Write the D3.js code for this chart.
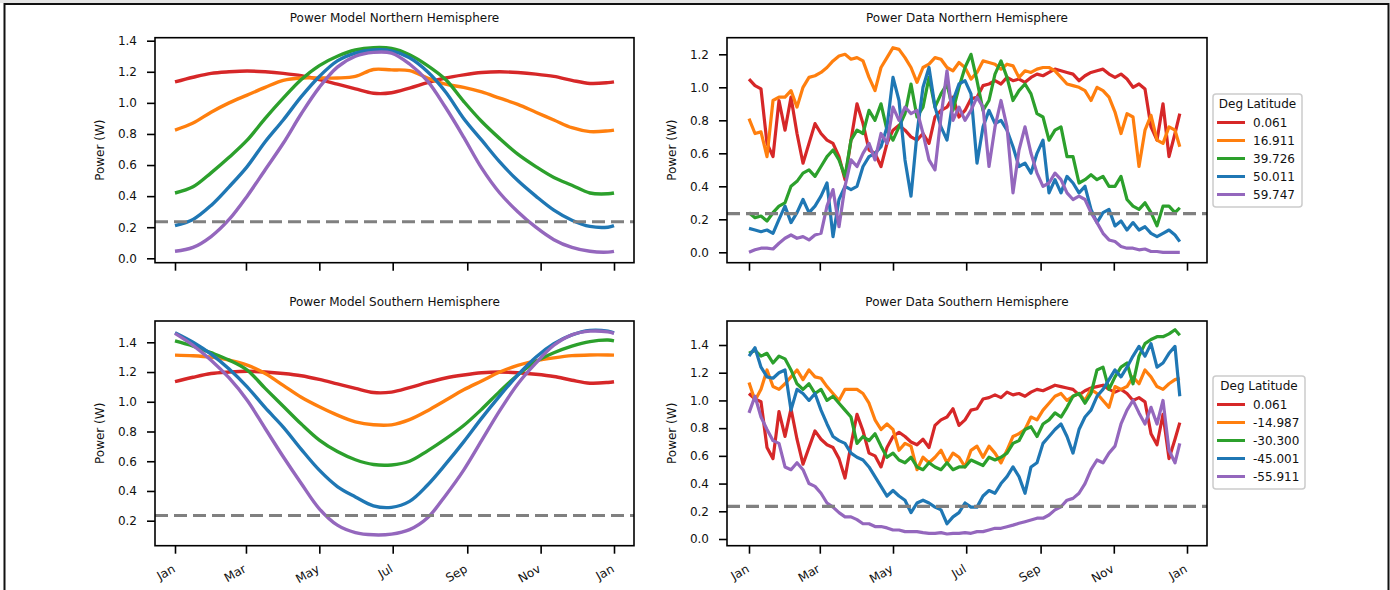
<!DOCTYPE html>
<html>
<head>
<meta charset="utf-8">
<script src="https://cdn.jsdelivr.net/npm/d3@7"></script>
<style>
  body { margin: 0; background: #fff; }
  svg { display: block; font-family: "DejaVu Sans", sans-serif; }
</style>
</head>
<body>
<svg width="1390" height="590"></svg>
<script>
// month ticks (day of year)
const monthDays = [0, 59, 120, 181, 243, 304, 365];
const monthLabels = ["Jan", "Mar", "May", "Jul", "Sep", "Nov", "Jan"];

const northLats = ["0.061", "16.911", "39.726", "50.011", "59.747"];
const southLats = ["0.061", "-14.987", "-30.300", "-45.001", "-55.911"];
const colors = ["#d62728", "#ff7f0e", "#2ca02c", "#1f77b4", "#9467bd"];

const threshold = 0.235;

const ticksModelNorth = [0, 0.2, 0.4, 0.6, 0.8, 1.0, 1.2, 1.4];
const ticksDataNorth = [0, 0.2, 0.4, 0.6, 0.8, 1.0, 1.2];
const ticksModelSouth = [0.2, 0.4, 0.6, 0.8, 1.0, 1.2, 1.4];
const ticksDataSouth = [0, 0.2, 0.4, 0.6, 0.8, 1.0, 1.2, 1.4];

// model curves
const modelDays = [0, 15, 30, 45, 60, 75, 90, 105, 120, 135, 150, 165, 180, 195, 210, 225, 240, 255, 270, 285, 300, 315, 330, 345, 360, 365];
const model0061 = [1.135, 1.165, 1.19, 1.2, 1.205, 1.2, 1.19, 1.175, 1.15, 1.12, 1.09, 1.062, 1.065, 1.095, 1.13, 1.16, 1.18, 1.195, 1.2, 1.195, 1.185, 1.17, 1.145, 1.125, 1.13, 1.135];
const model16911 = [0.825, 0.87, 0.94, 1.0, 1.05, 1.1, 1.145, 1.16, 1.16, 1.16, 1.17, 1.215, 1.212, 1.207, 1.16, 1.12, 1.1, 1.07, 1.03, 0.99, 0.94, 0.89, 0.84, 0.815, 0.82, 0.825];
const model39726 = [0.42, 0.46, 0.55, 0.65, 0.76, 0.9, 1.03, 1.15, 1.24, 1.3, 1.34, 1.355, 1.35, 1.31, 1.24, 1.15, 1.01, 0.88, 0.77, 0.67, 0.59, 0.52, 0.47, 0.42, 0.415, 0.42];
const model50011 = [0.21, 0.25, 0.34, 0.46, 0.59, 0.75, 0.89, 1.04, 1.17, 1.27, 1.32, 1.34, 1.335, 1.29, 1.2, 1.07, 0.9, 0.76, 0.62, 0.5, 0.4, 0.31, 0.245, 0.205, 0.2, 0.21];
const model59747 = [0.045, 0.07, 0.14, 0.25, 0.4, 0.57, 0.74, 0.93, 1.1, 1.23, 1.3, 1.325, 1.32, 1.25, 1.14, 0.97, 0.78, 0.58, 0.42, 0.3, 0.2, 0.12, 0.07, 0.045, 0.04, 0.045];
const modelM14987 = [1.314, 1.31, 1.3, 1.28, 1.247, 1.19, 1.11, 1.03, 0.966, 0.91, 0.865, 0.845, 0.845, 0.88, 0.94, 1.01, 1.08, 1.14, 1.2, 1.245, 1.275, 1.295, 1.31, 1.315, 1.315, 1.314];
const modelM30300 = [1.41, 1.375, 1.33, 1.28, 1.213, 1.09, 0.97, 0.85, 0.742, 0.665, 0.61, 0.578, 0.575, 0.6, 0.67, 0.75, 0.84, 0.95, 1.07, 1.18, 1.27, 1.33, 1.375, 1.405, 1.415, 1.41];
const modelM45001 = [1.464, 1.4, 1.32, 1.22, 1.1, 0.96, 0.83, 0.68, 0.54, 0.43, 0.36, 0.3, 0.29, 0.33, 0.44, 0.58, 0.73, 0.89, 1.04, 1.18, 1.3, 1.39, 1.45, 1.48, 1.475, 1.464];
const modelM55911 = [1.46, 1.38, 1.28, 1.16, 1.01, 0.82, 0.63, 0.45, 0.28, 0.17, 0.12, 0.105, 0.11, 0.14, 0.22, 0.37, 0.54, 0.74, 0.94, 1.12, 1.26, 1.38, 1.45, 1.475, 1.47, 1.46];

// measured data
const dataDays = [0, 5, 10, 15, 20, 25, 30, 35, 40, 45, 50, 55, 60, 65, 70, 75, 80, 85, 90, 95, 100, 105, 110, 115, 120, 125, 130, 135, 140, 145, 150, 155, 160, 165, 170, 175, 180, 185, 190, 195, 200, 205, 210, 215, 220, 225, 230, 235, 240, 245, 250, 255, 260, 265, 270, 275, 280, 285, 290, 295, 300, 305, 310, 315, 320, 325, 330, 335, 340, 345, 350, 355, 359];
const data0061 = [1.05, 1.01, 0.99, 0.66, 0.58, 0.92, 0.74, 0.94, 0.72, 0.54, 0.66, 0.78, 0.72, 0.68, 0.66, 0.58, 0.44, 0.68, 0.9, 0.78, 0.62, 0.6, 0.52, 0.66, 0.74, 0.77, 0.74, 0.7, 0.68, 0.72, 0.66, 0.82, 0.86, 0.88, 0.94, 0.82, 0.86, 0.93, 0.94, 1.01, 1.02, 1.04, 1.02, 1.06, 1.04, 1.05, 1.03, 1.06, 1.08, 1.07, 1.09, 1.11, 1.1, 1.09, 1.08, 1.04, 1.07, 1.09, 1.1, 1.11, 1.08, 1.06, 1.08, 1.05, 1.0, 1.02, 0.99, 0.76, 0.68, 0.9, 0.58, 0.72, 0.84];
const data16911 = [0.81, 0.72, 0.73, 0.58, 0.92, 0.94, 0.94, 0.98, 0.88, 1.0, 1.06, 1.07, 1.09, 1.12, 1.16, 1.19, 1.2, 1.17, 1.18, 1.16, 1.06, 0.98, 1.12, 1.18, 1.24, 1.23, 1.18, 1.12, 1.03, 1.12, 1.14, 1.18, 1.17, 1.12, 1.1, 1.15, 1.12, 1.05, 1.09, 1.16, 1.15, 1.14, 1.11, 1.14, 1.13, 1.06, 1.1, 1.09, 1.11, 1.12, 1.12, 1.1, 1.06, 1.02, 1.01, 1.0, 0.98, 0.92, 1.0, 0.98, 0.94, 0.85, 0.72, 0.84, 0.82, 0.52, 0.74, 0.83, 0.68, 0.66, 0.76, 0.74, 0.64];
const data39726 = [0.24, 0.21, 0.22, 0.19, 0.24, 0.28, 0.3, 0.4, 0.43, 0.48, 0.5, 0.46, 0.52, 0.58, 0.62, 0.56, 0.46, 0.68, 0.74, 0.72, 0.86, 0.8, 0.9, 0.74, 0.68, 0.76, 0.84, 1.02, 0.82, 0.88, 1.06, 0.88, 0.96, 1.02, 0.86, 1.0, 1.12, 1.2, 1.04, 0.86, 0.92, 1.08, 1.16, 1.06, 0.92, 0.98, 1.02, 0.96, 0.84, 0.82, 0.68, 0.74, 0.76, 0.58, 0.58, 0.42, 0.44, 0.47, 0.44, 0.46, 0.4, 0.4, 0.46, 0.32, 0.28, 0.26, 0.3, 0.24, 0.16, 0.28, 0.28, 0.24, 0.27];
const data50011 = [0.145, 0.135, 0.125, 0.135, 0.115, 0.2, 0.28, 0.18, 0.24, 0.32, 0.24, 0.28, 0.34, 0.42, 0.095, 0.32, 0.4, 0.38, 0.4, 0.52, 0.58, 0.6, 0.64, 0.76, 1.06, 0.92, 0.56, 0.34, 0.72, 1.0, 1.12, 0.88, 0.76, 0.68, 0.92, 1.02, 1.04, 0.96, 0.54, 0.76, 0.86, 0.78, 0.8, 0.74, 0.64, 0.52, 0.54, 0.48, 0.6, 0.68, 0.36, 0.44, 0.36, 0.46, 0.42, 0.36, 0.4, 0.26, 0.18, 0.24, 0.26, 0.16, 0.19, 0.135, 0.18, 0.135, 0.155, 0.115, 0.095, 0.115, 0.135, 0.105, 0.065];
const data59747 = [0.0, 0.015, 0.025, 0.025, 0.02, 0.055, 0.085, 0.105, 0.085, 0.095, 0.075, 0.105, 0.115, 0.28, 0.38, 0.155, 0.4, 0.56, 0.52, 0.6, 0.66, 0.56, 0.72, 0.66, 0.88, 0.8, 0.88, 0.84, 0.86, 0.72, 0.56, 0.5, 0.82, 1.1, 0.8, 0.88, 0.8, 0.86, 0.94, 0.88, 0.52, 0.76, 0.92, 0.76, 0.36, 0.62, 0.76, 0.6, 0.48, 0.4, 0.42, 0.48, 0.44, 0.36, 0.32, 0.34, 0.32, 0.24, 0.18, 0.115, 0.075, 0.065, 0.035, 0.025, 0.025, 0.015, 0.02, 0.005, 0.005, 0.0, 0.0, 0.0, 0.0];
const dataM14987 = [1.13, 1.0, 1.08, 1.22, 1.1, 1.08, 1.12, 1.17, 1.22, 1.15, 1.22, 1.17, 1.16, 1.1, 1.05, 1.0, 1.08, 1.08, 1.08, 1.05, 0.98, 0.86, 0.79, 0.83, 0.79, 0.64, 0.69, 0.67, 0.5, 0.59, 0.55, 0.59, 0.64, 0.55, 0.62, 0.59, 0.52, 0.64, 0.67, 0.59, 0.67, 0.62, 0.55, 0.64, 0.74, 0.76, 0.79, 0.88, 0.86, 0.93, 0.98, 1.03, 1.05, 1.0, 1.03, 1.05, 1.0, 1.08, 1.05, 1.0, 0.95, 1.1, 1.08, 1.1, 1.17, 1.12, 1.22, 1.17, 1.1, 1.08, 1.12, 1.15, 1.16];
const dataM30300 = [1.34, 1.36, 1.32, 1.34, 1.27, 1.32, 1.3, 1.22, 1.12, 1.08, 1.12, 1.05, 1.08, 1.0, 1.03, 0.98, 0.93, 0.88, 0.69, 0.74, 0.71, 0.76, 0.67, 0.59, 0.62, 0.57, 0.55, 0.59, 0.52, 0.5, 0.55, 0.52, 0.5, 0.55, 0.5, 0.52, 0.52, 0.57, 0.55, 0.53, 0.59, 0.57, 0.59, 0.62, 0.69, 0.71, 0.79, 0.81, 0.74, 0.83, 0.86, 0.91, 0.88, 0.95, 1.03, 1.05, 0.98, 1.05, 1.22, 1.24, 1.08, 1.17, 1.24, 1.27, 1.12, 1.32, 1.41, 1.44, 1.46, 1.46, 1.48, 1.51, 1.47];
const dataM45001 = [1.32, 1.38, 1.24, 1.17, 1.16, 1.2, 1.22, 0.93, 1.08, 1.05, 1.0, 1.05, 0.93, 0.83, 0.74, 0.71, 0.69, 0.62, 0.59, 0.57, 0.52, 0.45, 0.38, 0.31, 0.35, 0.31, 0.28, 0.19, 0.26, 0.28, 0.26, 0.23, 0.21, 0.11, 0.16, 0.19, 0.26, 0.23, 0.23, 0.31, 0.35, 0.33, 0.4, 0.45, 0.52, 0.45, 0.33, 0.52, 0.55, 0.69, 0.74, 0.79, 0.83, 0.74, 0.62, 0.79, 0.88, 0.93, 1.03, 1.08, 1.15, 1.22, 1.17, 1.24, 1.32, 1.39, 1.32, 1.41, 1.24, 1.27, 1.34, 1.39, 1.03];
const dataM55911 = [0.91, 1.03, 0.88, 0.79, 0.71, 0.69, 0.52, 0.5, 0.55, 0.5, 0.4, 0.38, 0.33, 0.26, 0.23, 0.19, 0.16, 0.16, 0.14, 0.11, 0.11, 0.09, 0.09, 0.08, 0.065, 0.065, 0.053, 0.053, 0.053, 0.046, 0.041, 0.041, 0.046, 0.036, 0.041, 0.041, 0.046, 0.041, 0.053, 0.053, 0.065, 0.077, 0.077, 0.089, 0.1, 0.113, 0.125, 0.137, 0.15, 0.15, 0.173, 0.21, 0.233, 0.28, 0.293, 0.33, 0.4, 0.5, 0.57, 0.55, 0.62, 0.67, 0.83, 0.93, 1.0, 0.91, 0.83, 0.95, 0.83, 1.0, 0.64, 0.55, 0.69];

const svg = d3.select("svg");

// frame around the figure
svg.append("rect").attr("x", 0).attr("y", 0).attr("width", 1390).attr("height", 3).attr("fill", "#e4e4e4");
svg.append("path")
  .attr("d", "M4.5,590 V4 H1388.5 V590")
  .attr("fill", "none")
  .attr("stroke", "#111")
  .attr("stroke-width", 2);

const panels = [
  { title: "Power Model Northern Hemisphere", left: 155, right: 634, top: 37.7, bottom: 262.7,
    xr: [175, 614], yd: [0, 1.4], yr: [258.3, 40.7], yTicks: ticksModelNorth,
    days: modelDays, series: [model0061, model16911, model39726, model50011, model59747],
    curve: d3.curveCatmullRom.alpha(0.5), width: 3.4, labels: false, legend: null },
  { title: "Power Data Northern Hemisphere", left: 727, right: 1207, top: 37.7, bottom: 262.7,
    xr: [749, 1187], yd: [0, 1.2], yr: [252.3, 54.3], yTicks: ticksDataNorth,
    days: dataDays, series: [data0061, data16911, data39726, data50011, data59747],
    curve: d3.curveLinear, width: 3.2, labels: false, legend: { x: 1213, y: 94, w: 89, lats: northLats } },
  { title: "Power Model Southern Hemisphere", left: 155, right: 634, top: 321, bottom: 545.7,
    xr: [175, 614], yd: [0.2, 1.4], yr: [520.7, 342.3], yTicks: ticksModelSouth,
    days: modelDays, series: [model0061, modelM14987, modelM30300, modelM45001, modelM55911],
    curve: d3.curveCatmullRom.alpha(0.5), width: 3.4, labels: true, legend: null },
  { title: "Power Data Southern Hemisphere", left: 727, right: 1207, top: 321, bottom: 545.7,
    xr: [749, 1187], yd: [0, 1.4], yr: [539, 345], yTicks: ticksDataSouth,
    days: dataDays, series: [data0061, dataM14987, dataM30300, dataM45001, dataM55911],
    curve: d3.curveLinear, width: 3.2, labels: true, legend: { x: 1213, y: 376, w: 92, lats: southLats } }
];

panels.forEach((p, i) => {
  const x = d3.scaleLinear().domain([0, 365]).range(p.xr);
  const y = d3.scaleLinear().domain(p.yd).range(p.yr);
  const g = svg.append("g");

  const clipId = "clip" + i;
  svg.append("clipPath").attr("id", clipId)
    .append("rect")
    .attr("x", p.left).attr("y", p.top)
    .attr("width", p.right - p.left).attr("height", p.bottom - p.top);

  // title
  g.append("text")
    .attr("x", (p.left + p.right) / 2)
    .attr("y", p.top - 15.5)
    .attr("text-anchor", "middle")
    .attr("font-size", 12)
    .attr("fill", "#111")
    .text(p.title);

  // y axis
  const yAxis = g.append("g")
    .attr("transform", `translate(${p.left},0)`)
    .call(d3.axisLeft(y).tickValues(p.yTicks).tickFormat(d3.format(".1f")).tickSize(8).tickPadding(10));
  yAxis.select(".domain").remove();
  yAxis.selectAll(".tick line").attr("stroke", "#000").attr("stroke-width", 1.6);
  yAxis.selectAll(".tick text").attr("font-size", 12).attr("font-family", "DejaVu Sans").attr("fill", "#111");

  // x axis
  const xAxis = g.append("g")
    .attr("transform", `translate(0,${p.bottom})`)
    .call(d3.axisBottom(x).tickValues(monthDays).tickFormat("").tickSize(8));
  xAxis.select(".domain").remove();
  xAxis.selectAll(".tick line").attr("stroke", "#000").attr("stroke-width", 1.6);

  if (p.labels) {
    g.selectAll(".month")
      .data(monthDays)
      .enter()
      .append("text")
      .attr("transform", (d) => `translate(${x(d) + 1},${p.bottom + 25.5}) rotate(-30)`)
      .attr("text-anchor", "end")
      .attr("font-size", 12)
      .attr("fill", "#111")
      .text((d, k) => monthLabels[k]);
  }

  // y label
  g.append("text")
    .attr("transform", `translate(${p.left - 51},${(p.top + p.bottom) / 2}) rotate(-90)`)
    .attr("text-anchor", "middle")
    .attr("font-size", 12)
    .attr("fill", "#111")
    .text("Power (W)");

  // lines
  const line = d3.line()
    .x((d, k) => x(p.days[k]))
    .y((d) => y(d))
    .curve(p.curve);

  const plot = g.append("g").attr("clip-path", `url(#${clipId})`);
  plot.selectAll(".series")
    .data(p.series)
    .enter()
    .append("path")
    .attr("fill", "none")
    .attr("stroke", (d, k) => colors[k])
    .attr("stroke-width", p.width)
    .attr("stroke-linejoin", "round")
    .attr("d", line);

  plot.append("line")
    .attr("x1", p.left).attr("x2", p.right)
    .attr("y1", y(threshold)).attr("y2", y(threshold))
    .attr("stroke", "#808080")
    .attr("stroke-width", 3.2)
    .attr("stroke-dasharray", "13,6");

  // spines
  g.append("rect")
    .attr("x", p.left).attr("y", p.top)
    .attr("width", p.right - p.left).attr("height", p.bottom - p.top)
    .attr("fill", "none")
    .attr("stroke", "#000")
    .attr("stroke-width", 1.6);

  if (p.legend) {
    const L = p.legend;
    const lg = g.append("g").attr("transform", `translate(${L.x},${L.y})`);
    lg.append("rect")
      .attr("width", L.w).attr("height", 113)
      .attr("rx", 3)
      .attr("fill", "#fff").attr("fill-opacity", 0.8)
      .attr("stroke", "#cccccc").attr("stroke-width", 1.5);
    lg.append("text")
      .attr("x", L.w / 2).attr("y", 14)
      .attr("text-anchor", "middle")
      .attr("font-size", 12)
      .attr("fill", "#111")
      .text("Deg Latitude");
    const item = lg.selectAll(".item")
      .data(L.lats)
      .enter()
      .append("g")
      .attr("transform", (d, k) => `translate(0,${28.5 + k * 18})`);
    item.append("line")
      .attr("x1", 4).attr("x2", 32)
      .attr("stroke", (d, k) => colors[k])
      .attr("stroke-width", 3);
    item.append("text")
      .attr("x", 40).attr("y", 4.5)
      .attr("font-size", 12)
      .attr("fill", "#111")
      .text((d) => d);
  }
});
</script>
</body>
</html>
